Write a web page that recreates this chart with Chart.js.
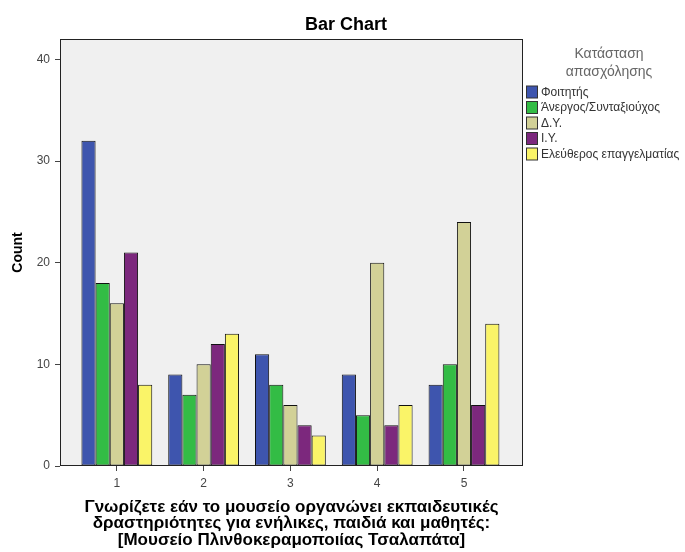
<!DOCTYPE html>
<html>
<head>
<meta charset="utf-8">
<script src="https://cdn.jsdelivr.net/npm/chart.js@4"></script>
<style>
  html, body { margin: 0; padding: 0; background: #fff; }
  #wrap { width: 685px; height: 552px; }
</style>
</head>
<body>
<div id="wrap"><canvas id="barChart" width="685" height="552"></canvas></div>
<script>
// categories of the x axis and tick values of the y axis
const categories = [1, 2, 3, 4, 5]
const yTicks = [0, 10, 20, 30, 40]

// series (Κατάσταση απασχόλησης)
const seriesNames = ["Φοιτητής", "Άνεργος/Συνταξιούχος", "Δ.Υ.", "Ι.Υ.", "Ελεύθερος επαγγελματίας"]
const foititis = [32, 9, 11, 9, 8]
const anergos = [18, 7, 8, 5, 10]
const dy = [16, 10, 6, 20, 24]
const iy = [21, 12, 4, 4, 6]
const eleftheros = [8, 13, 3, 6, 14]
const seriesValues = [foititis, anergos, dy, iy, eleftheros]

const colors = ['#3E55AE', '#33BC45', '#D2D197', '#7C287D', '#FAF468']
const FONT = "'Liberation Sans', Arial, sans-serif"

/**
 * Fondo gris del área del gráfico, marco, título y leyenda.
 */
const decorations = {
    id: 'decorations',
    beforeDraw(chart) {
        const { ctx, chartArea: a } = chart
        ctx.save()
        ctx.fillStyle = '#F0F0F0'
        ctx.fillRect(a.left, a.top, a.right - a.left, a.bottom - a.top)
        ctx.restore()
    },
    afterDraw(chart) {
        const { ctx, chartArea: a } = chart
        ctx.save()
        ctx.strokeStyle = '#222'
        ctx.lineWidth = 1
        ctx.strokeRect(a.left + 0.5, a.top + 0.5, a.right - a.left - 1, a.bottom - a.top - 1)

        // title
        ctx.fillStyle = '#000'
        ctx.font = 'bold 18px ' + FONT
        ctx.textAlign = 'center'
        ctx.textBaseline = 'middle'
        ctx.fillText('Bar Chart', 346, 25)

        // legend title
        ctx.fillStyle = '#666'
        ctx.font = '14px ' + FONT
        ctx.fillText('Κατάσταση', 609, 54)
        ctx.fillText('απασχόλησης', 609, 72)

        // legend items
        ctx.textAlign = 'left'
        ctx.font = '12px ' + FONT
        seriesNames.forEach((name, i) => {
            const y = 92 + i * 15.5
            ctx.fillStyle = colors[i]
            ctx.fillRect(526.5, y - 6, 11, 12)
            ctx.strokeStyle = '#333'
            ctx.strokeRect(526.5, y - 6, 11, 12)
            ctx.fillStyle = '#333'
            ctx.fillText(name, 541, y + 0.5)
        })
        ctx.restore()
    }
}

const datasets = seriesNames.map((name, i) => ({
    label: name,
    data: categories.map((c, j) => ({ x: c, y: seriesValues[i][j] })),
    backgroundColor: colors[i],
    borderColor: '#111',
    borderWidth: 1,
    borderSkipped: false,
    categoryPercentage: 0.816,
    barPercentage: 1
}))

new Chart(document.querySelector('#barChart'), {
    type: 'bar',
    data: { datasets: datasets },
    options: {
        responsive: false,
        animation: false,
        layout: { padding: { top: 39, right: 162, left: 0, bottom: 0 } },
        plugins: {
            legend: { display: false },
            tooltip: { enabled: false }
        },
        scales: {
            x: {
                type: 'linear',
                min: 0.345,
                max: 5.68,
                offset: false,
                afterBuildTicks: s => { s.ticks = categories.map(v => ({ value: v })) },
                afterFit: s => { s.height = 86 },
                grid: { drawOnChartArea: false, offset: false, tickLength: 5, color: '#444' },
                border: { display: false },
                ticks: { color: '#444', font: { family: FONT, size: 12 }, padding: 5 },
                title: {
                    display: true,
                    text: ['Γνωρίζετε εάν το μουσείο οργανώνει εκπαιδευτικές',
                           'δραστηριότητες για ενήλικες, παιδιά και μαθητές:',
                           '[Μουσείο Πλινθοκεραμοποιίας Τσαλαπάτα]'],
                    color: '#000',
                    font: { family: FONT, size: 17, weight: 'bold', lineHeight: 0.95 },
                    padding: { top: 8 }
                }
            },
            y: {
                min: 0,
                max: 42,
                afterBuildTicks: s => { s.ticks = yTicks.map(v => ({ value: v })) },
                afterFit: s => { s.width = 60 },
                grid: { drawOnChartArea: false, tickLength: 5, color: '#444' },
                border: { display: false },
                ticks: { color: '#444', font: { family: FONT, size: 12 }, padding: 5 },
                title: {
                    display: true,
                    text: 'Count',
                    color: '#000',
                    font: { family: FONT, size: 14, weight: 'bold' },
                    padding: { top: 10, bottom: 0 }
                }
            }
        }
    },
    plugins: [decorations]
})
</script>
</body>
</html>
